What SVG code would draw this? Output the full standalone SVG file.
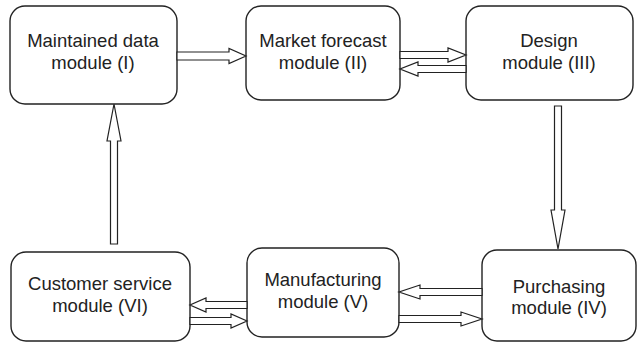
<svg xmlns="http://www.w3.org/2000/svg" width="641" height="344" viewBox="0 0 641 344">
<style>
.box{fill:#fff;stroke:#222;stroke-width:1.4}
.arr{fill:#fff;stroke:#222;stroke-width:1.2;stroke-linejoin:miter}
text{font-family:"Liberation Sans",Arial,sans-serif;font-size:18.5px;fill:#222;text-anchor:middle}
</style>
<rect width="641" height="344" fill="#fff"/>
<g id="node-I"><rect class="box" x="10" y="6" width="167" height="98" rx="15"/><text x="93" y="47">Maintained data</text><text x="93" y="69">module (I)</text></g>
<g id="node-II"><rect class="box" x="246" y="6" width="154" height="94" rx="15"/><text x="323" y="47">Market forecast</text><text x="323" y="69">module (II)</text></g>
<g id="node-III"><rect class="box" x="466" y="6" width="167" height="94" rx="15"/><text x="549" y="47">Design</text><text x="549" y="69">module (III)</text></g>
<g id="node-IV"><rect class="box" x="482" y="250" width="154" height="91" rx="15"/><text x="559" y="293">Purchasing</text><text x="559" y="314">module (IV)</text></g>
<g id="node-V"><rect class="box" x="247" y="248" width="152" height="89" rx="15"/><text x="323" y="286">Manufacturing</text><text x="323" y="308">module (V)</text></g>
<g id="node-VI"><rect class="box" x="11" y="252" width="179" height="89" rx="15"/><text x="100" y="290">Customer service</text><text x="100" y="312">module (VI)</text></g>
<g id="connectors">
<polygon class="arr" points="177,52 229,52 229,48.5 246,56 229,63.5 229,60 177,60"/>
<polygon class="arr" points="400,51.5 448,51.5 448,48 466,55 448,62 448,58.5 400,58.5"/>
<polygon class="arr" points="466,65.5 418,65.5 418,62 400,69 418,76 418,72.5 466,72.5"/>
<polygon class="arr" points="482,288.5 420,288.5 420,285 399,292 420,299 420,295.5 482,295.5"/>
<polygon class="arr" points="399,315.5 461,315.5 461,312 482,319 461,326 461,322.5 399,322.5"/>
<polygon class="arr" points="247,301.5 206,301.5 206,298 190,305 206,312 206,308.5 247,308.5"/>
<polygon class="arr" points="190,317.5 231,317.5 231,314 247,321 231,328 231,324.5 190,324.5"/>
<polygon class="arr" points="110.5,244 110.5,141 107,141 114,104 121,141 117.5,141 117.5,244"/>
<polygon class="arr" points="554.5,106 554.5,210 551,210 558,249 565,210 561.5,210 561.5,106"/>
</g>
</svg>
